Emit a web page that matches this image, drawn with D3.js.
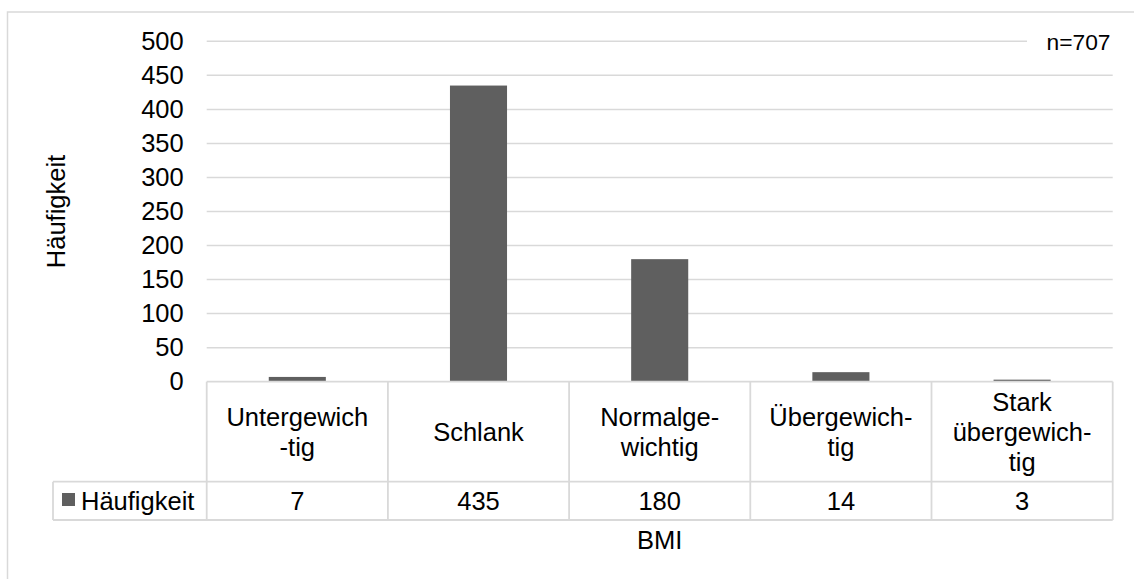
<!DOCTYPE html>
<html>
<head>
<meta charset="utf-8">
<script src="https://cdn.jsdelivr.net/npm/d3@7"></script>
<style>
  html, body { margin: 0; padding: 0; background: #fff; }
  svg { display: block; font-family: "Liberation Sans", Arial, sans-serif; }
</style>
</head>
<body>
<svg id="chart" width="1134" height="579"></svg>
<script>
// BMI categories (label lines as printed in the table header)
const categories = ["Untergewichtig", "Schlank", "Normalgewichtig", "Übergewichtig", "Stark übergewichtig"];
const categoryLines = [
  ["Untergewich", "-tig"],
  ["Schlank"],
  ["Normalge-", "wichtig"],
  ["Übergewich-", "tig"],
  ["Stark", "übergewich-", "tig"]
];
const seriesName = "Häufigkeit";
const counts = [7, 435, 180, 14, 3];
const yTicks = [0, 50, 100, 150, 200, 250, 300, 350, 400, 450, 500];
const yTitle = "Häufigkeit";
const xTitle = "BMI";
const sampleNote = "n=707";

(function () {
  const svg = d3.select("#chart");
  const fontSize = 25.5;
  const noteSize = 22.8;
  const gridColor = "#d9d9d9";
  const barColor = "#5f5f5f";
  const textColor = "#000";

  // plot area
  const plotL = 206.7, plotR = 1112.7, plotT = 41.3, plotB = 381.7;
  const headerBottom = 481.7, tableBottom = 520;
  const legendLeft = 53;

  // outer frame
  svg.append("rect")
    .attr("x", 7.5).attr("y", 12)
    .attr("width", 1200).attr("height", 700)
    .attr("fill", "none").attr("stroke", gridColor).attr("stroke-width", 1.5);

  const y = d3.scaleLinear().domain([0, 500]).range([plotB, plotT]);
  const xCol = d3.scaleBand().domain(categories).range([plotL, plotR]).padding(0);
  const xBar = d3.scaleBand().domain(categories).range([plotL, plotR])
    .paddingInner(0.685).paddingOuter(0.3425);

  // gridlines
  svg.append("g")
    .selectAll("line")
    .data(yTicks.filter(d => d > 0))
    .join("line")
    .attr("x1", plotL).attr("x2", plotR)
    .attr("y1", d => y(d)).attr("y2", d => y(d))
    .attr("stroke", gridColor).attr("stroke-width", 1.5);

  // y axis labels
  const yAxis = svg.append("g")
    .attr("transform", `translate(${plotL - 23},0)`)
    .call(d3.axisLeft(y).tickValues(yTicks).tickSize(0).tickPadding(0).tickFormat(d3.format("d")));
  yAxis.select(".domain").remove();
  yAxis.selectAll("text")
    .attr("font-size", fontSize)
    .attr("font-family", "Liberation Sans, Arial, sans-serif")
    .attr("fill", textColor);

  // bars
  svg.append("g")
    .selectAll("rect")
    .data(categories.map((c, i) => ({ c, v: counts[i] })))
    .join("rect")
    .attr("x", d => xBar(d.c))
    .attr("width", xBar.bandwidth())
    .attr("y", d => y(d.v))
    .attr("height", d => y(0) - y(d.v))
    .attr("fill", barColor);

  // sample size note
  const note = svg.append("g");
  note.append("rect")
    .attr("x", 1027).attr("y", 26).attr("width", 90).attr("height", 30)
    .attr("fill", "#fff");
  note.append("text")
    .attr("x", 1110.5).attr("y", y(500) + noteSize * 0.36)
    .attr("text-anchor", "end")
    .attr("font-size", noteSize)
    .attr("fill", textColor)
    .text(sampleNote);

  // data table
  const table = svg.append("g")
    .attr("stroke", gridColor).attr("stroke-width", 1.8).attr("fill", "none");
  table.append("line").attr("x1", plotL).attr("x2", plotR).attr("y1", plotB).attr("y2", plotB);
  table.append("line").attr("x1", legendLeft).attr("x2", plotR).attr("y1", headerBottom).attr("y2", headerBottom);
  table.append("line").attr("x1", legendLeft).attr("x2", plotR).attr("y1", tableBottom).attr("y2", tableBottom);
  table.append("line").attr("x1", legendLeft).attr("x2", legendLeft).attr("y1", headerBottom).attr("y2", tableBottom);
  table.selectAll("line.col")
    .data(categories.concat(["end"]))
    .join("line")
    .attr("class", "col")
    .attr("x1", (d, i) => i < categories.length ? xCol(d) : plotR)
    .attr("x2", (d, i) => i < categories.length ? xCol(d) : plotR)
    .attr("y1", plotB).attr("y2", tableBottom);

  // category headers
  const lineH = 30;
  const headerMid = (plotB + headerBottom) / 2;
  svg.append("g")
    .selectAll("text")
    .data(categories.map((c, i) => ({ c, lines: categoryLines[i] })))
    .join("text")
    .attr("text-anchor", "middle")
    .attr("font-size", fontSize)
    .attr("fill", textColor)
    .each(function (d) {
      const cx = xCol(d.c) + xCol.bandwidth() / 2;
      const n = d.lines.length;
      d3.select(this).selectAll("tspan")
        .data(d.lines)
        .join("tspan")
        .attr("x", cx)
        .attr("y", (l, j) => headerMid + fontSize * 0.35 + (j - (n - 1) / 2) * lineH)
        .text(l => l);
    });

  // values row
  const rowMid = (headerBottom + tableBottom) / 2;
  svg.append("g")
    .selectAll("text")
    .data(categories.map((c, i) => ({ c, v: counts[i] })))
    .join("text")
    .attr("x", d => xCol(d.c) + xCol.bandwidth() / 2)
    .attr("y", rowMid + fontSize * 0.35)
    .attr("text-anchor", "middle")
    .attr("font-size", fontSize)
    .attr("fill", textColor)
    .text(d => d.v);

  // legend key in table
  svg.append("rect")
    .attr("x", 62).attr("y", 493).attr("width", 13).attr("height", 13)
    .attr("fill", barColor);
  svg.append("text")
    .attr("x", 81).attr("y", rowMid + fontSize * 0.35)
    .attr("font-size", fontSize)
    .attr("fill", textColor)
    .text(seriesName);

  // axis titles
  svg.append("text")
    .attr("x", (plotL + plotR) / 2).attr("y", 548.5)
    .attr("text-anchor", "middle")
    .attr("font-size", fontSize)
    .attr("fill", textColor)
    .text(xTitle);

  svg.append("text")
    .attr("transform", `translate(65,${(plotT + plotB) / 2}) rotate(-90)`)
    .attr("text-anchor", "middle")
    .attr("font-size", fontSize)
    .attr("fill", textColor)
    .text(yTitle);
})();
</script>
</body>
</html>
